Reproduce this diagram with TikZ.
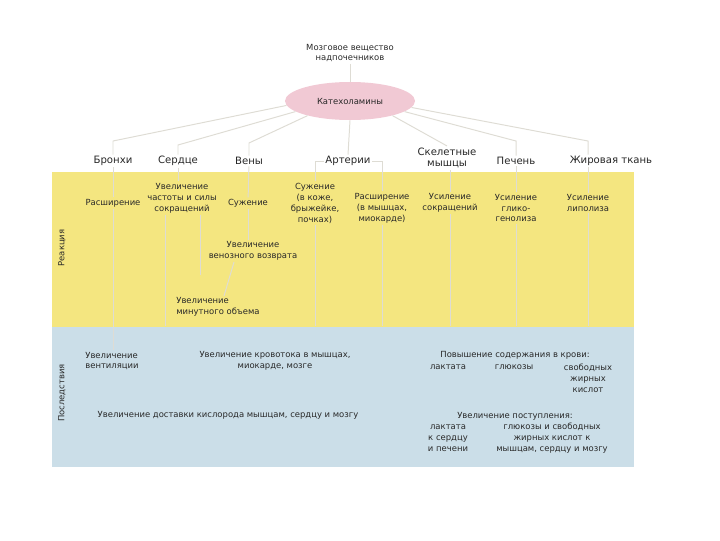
\documentclass[tikz,border=0pt]{standalone}
\usepackage{fontspec}
\setmainfont{DejaVu Sans}
\usepackage{tikz}
\usetikzlibrary{positioning,shapes.geometric}
\usepackage{xcolor}
\definecolor{ink}{RGB}{40,40,40}
\definecolor{wireC}{RGB}{222,220,212}
\definecolor{bandY}{RGB}{244,230,128}
\definecolor{bandB}{RGB}{203,222,232}
\definecolor{pinkE}{RGB}{241,201,212}
\tikzset{
  cat/.style={font=\fontsize{7.2}{8.4}\selectfont,text=black!85,align=center,inner sep=1pt},
  txt/.style={font=\fontsize{6}{7.8}\selectfont,text=ink,align=center,inner sep=1pt},
  wire/.style={draw=wireC,line width=0.7pt},
}

\begin{document}
\begin{tikzpicture}[x=0.025cm,y=-0.025cm]
\useasboundingbox (0,0) rectangle (720,540);
% two bands: reaction and consequences
\fill[bandY] (52,172) rectangle (634,327);
\fill[bandB] (52,327) rectangle (634,467);
\coordinate (ybot) at (0,326);
\node[txt,rotate=90] (reak) at (62,248) {Реакция};
\node[txt,rotate=90] (posl) at (62,393) {Последствия};

\node[txt] (mozg) at (350,53) {Мозговое вещество\\надпочечников};
\node[ellipse,fill=pinkE,minimum width=3.25cm,minimum height=0.95cm,txt] (kat) at (350,101) {Катехоламины};

% organs
\node[cat] (bron) at (113,161) {Бронхи};
\node[cat] (serd) at (178,161) {Сердце};
\node[cat] (ven)  at (249,161) {Вены};
\node[cat] (art)  at (348,161) {Артерии};
\node[cat] (skel) at (447,158) {Скелетные\\мышцы};
\node[cat] (pech) at (516,161) {Печень};
\node[cat] (zhir) at (611,161) {Жировая ткань};

% reaction
\node[txt] (rasB)  at (113,203) {Расширение};
\node[txt] (chast) at (182,198) {Увеличение\\частоты и силы\\сокращений};
\node[txt] (suzV)  at (248,203) {Сужение};
\node[txt] (suzA)  at (315,203) {Сужение\\(в коже,\\брыжейке,\\почках)};
\node[txt] (rasA)  at (382,208) {Расширение\\(в мышцах,\\миокарде)};
\node[txt] (sokr)  at (450,203) {Усиление\\сокращений};
\node[txt] (glik)  at (516,208) {Усиление\\глико-\\генолиза};
\node[txt] (lip)   at (588,203) {Усиление\\липолиза};
\node[txt] (vozv)  at (253,251) {Увеличение\\венозного возврата};
\node[txt,align=left] (minut) at (218,307) {Увеличение\\минутного объема};

% consequences
\node[txt,align=left] (vent) at (112,361) {Увеличение\\вентиляции};
\node[txt] (krov) at (275,361) {Увеличение кровотока в мышцах,\\миокарде, мозге};
\node[txt] (dost) at (228,415) {Увеличение доставки кислорода мышцам, сердцу и мозгу};
\node[txt] (povysh) at (515,355) {Повышение содержания в крови:};
\node[txt] (lakt1) at (448,367) {лактата};
\node[txt] (gluk1) at (514,367) {глюкозы};
\node[txt] (svob1) at (588,378) {свободных\\жирных\\кислот};
\node[txt] (postup) at (515,416) {Увеличение поступления:};
\node[txt] (lakt2) at (448,438) {лактата\\к сердцу\\и печени};
\node[txt] (gluk2) at (552,438) {глюкозы и свободных\\жирных кислот к\\мышцам, сердцу и мозгу};

% faint connectors
\draw[wire] (mozg) -- (kat);
\draw[wire] (kat.184) -- (bron.north |- 0,141) -- (bron.north);
\draw[wire] (kat.191) -- (serd.north |- 0,145) -- (serd.north);
\draw[wire] (kat.199) -- (ven.north |- 0,143) -- (ven.north);
\draw[wire] (kat.south) -- (art.north);
\draw[wire] (kat.341) -- (skel.north);
\draw[wire] (kat.349) -- (pech.north |- 0,141) -- (pech.north);
\draw[wire] (kat.354) -- (588,141) -- (zhir.north -| 588,0);

\draw[wire] (bron) -- (rasB);
\draw[wire] (rasB.south) -- (rasB.south |- vent.north);
\draw[wire] (serd) -- (serd |- chast.north);
\draw[wire] (chast.south -| 165,0) -- (165,0 |- ybot);
\draw[wire] (chast.south -| 200,0) -- ++(0,60);
\draw[wire] (ven) -- (suzV);
\draw[wire] (suzV.south) -- (suzV.south |- vozv.north);
\draw[wire] (vozv.south -| 234,0) -- (minut.north -| 224,0);
\draw[wire] (art.west) -| (suzA.north);
\draw[wire] (art.east) -| (rasA.north);
\draw[wire] (suzA.south) -- (suzA.south |- ybot);
\draw[wire] (rasA.south) -- (rasA.south |- ybot);
\draw[wire] (skel.south -| sokr) -- (sokr.north);
\draw[wire] (sokr.south) -- (sokr.south |- ybot);
\draw[wire] (pech) -- (glik);
\draw[wire] (glik.south) -- (glik.south |- ybot);
\draw[wire] (zhir.south -| lip) -- (lip.north);
\draw[wire] (lip.south) -- (lip.south |- ybot);
\end{tikzpicture}
\end{document}
